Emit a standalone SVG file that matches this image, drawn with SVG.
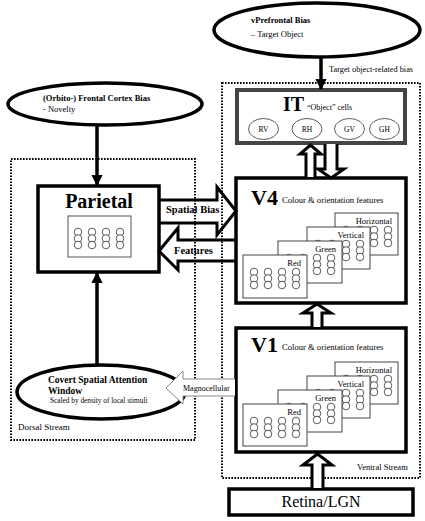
<svg xmlns="http://www.w3.org/2000/svg" width="425" height="521" viewBox="0 0 425 521">
<style>
text{font-family:"Liberation Serif","Times New Roman",serif;fill:#000}
.b{font-weight:bold}
.thick{fill:#fff;stroke:#000;stroke-width:3.5}
.ell{fill:#fff;stroke:#000;stroke-width:3.5}
.dot{fill:none;stroke:#000;stroke-width:2;stroke-dasharray:1.6 1.4}
.card{fill:#fff;stroke:#444;stroke-width:1}
.c{fill:#fff;stroke:#333;stroke-width:0.8}
.hol{fill:#fff;stroke:#000;stroke-width:3;stroke-linejoin:miter}
.holn{fill:none;stroke:#000;stroke-width:3;stroke-linejoin:miter}
.line{stroke:#000;stroke-width:3.5;fill:none}
.sm{font-size:8px}
</style>
<defs>
<marker id="ah" viewBox="0 0 10 10" refX="9" refY="5" markerWidth="3.2" markerHeight="3.2" orient="auto" markerUnits="strokeWidth">
<path d="M0,0 L10,5 L0,10 z" fill="#000"/>
</marker>
<g id="col"><circle class="c" cx="0" cy="0" r="3.8"/><circle class="c" cx="0" cy="6.5" r="3.8"/><circle class="c" cx="0" cy="13" r="3.8"/></g>
<g id="cols"><use href="#col" x="11" y="17"/><use href="#col" x="25" y="17"/><use href="#col" x="39" y="17"/><use href="#col" x="53" y="17"/></g>
</defs>

<!-- stream regions -->
<g id="dorsal-stream">
<rect class="dot" x="11" y="159" width="184" height="281"/>
<text x="18" y="430" style="font-size:9px">Dorsal Stream</text>
</g>
<g id="ventral-stream">
<rect class="dot" x="222" y="83" width="198" height="395"/>
<text x="357" y="470" style="font-size:8.5px">Ventral Stream</text>
</g>

<g id="vprefrontal">
<ellipse class="ell" cx="317" cy="30" rx="103" ry="27"/>
<text x="251" y="23" class="b" style="font-size:8.5px">vPrefrontal Bias</text>
<text x="251" y="37" style="font-size:8.5px">– Target Object</text>
</g>

<g id="frontal">
<ellipse class="ell" cx="105" cy="104" rx="97" ry="21"/>
<text x="43" y="101" class="b" style="font-size:8.5px">(Orbito-) Frontal Cortex Bias</text>
<text x="43" y="112" style="font-size:8.5px">- Novelty</text>
</g>

<g id="covert">
<ellipse class="ell" cx="101" cy="392" rx="84" ry="27"/>
<text x="48" y="383" class="b" style="font-size:9.5px">Covert Spatial Attention</text>
<text x="48" y="394" class="b" style="font-size:9.5px">Window</text>
<text x="50" y="403" style="font-size:7.3px">Scaled by density of local stimuli</text>
</g>

<g id="it">
<rect x="237" y="90" width="168" height="53" fill="#fff" stroke="#444" stroke-width="4"/>
<text x="283" y="111" class="b" style="font-size:20px">IT</text>
<text x="307" y="110" class="sm">“Object” cells</text>
<ellipse class="c" cx="263.5" cy="129" rx="15" ry="10.5"/>
<ellipse class="c" cx="307" cy="129" rx="15" ry="10.5"/>
<ellipse class="c" cx="349.5" cy="129" rx="15" ry="10.5"/>
<ellipse class="c" cx="384.5" cy="129" rx="15" ry="10.5"/>
<g text-anchor="middle" style="font-size:7.5px">
<text x="263.5" y="132">RV</text><text x="307" y="132">RH</text><text x="349.5" y="132">GV</text><text x="384.5" y="132">GH</text>
</g>
</g>

<g id="parietal">
<rect class="thick" x="38" y="186" width="121" height="86"/>
<text x="99" y="208" text-anchor="middle" class="b" style="font-size:20px">Parietal</text>
<rect x="68" y="216" width="63" height="41" fill="#fff" stroke="#555" stroke-width="1"/>
<use href="#col" x="78" y="232"/><use href="#col" x="92" y="232"/><use href="#col" x="106" y="232"/><use href="#col" x="120" y="232"/>
</g>

<g id="v4">
<rect class="thick" x="236" y="178" width="170" height="125"/>
<text x="251" y="205" class="b" style="font-size:22px">V4</text>
<text x="282" y="203" style="font-size:8.6px">Colour &amp; orientation features</text>
<g transform="translate(335,213)"><rect class="card" width="63" height="42"/><text x="57" y="11" text-anchor="end" style="font-size:8.5px">Horizontal</text><use href="#cols"/></g>
<g transform="translate(307,227)"><rect class="card" width="63" height="42"/><text x="57" y="11" text-anchor="end" style="font-size:8.5px">Vertical</text><use href="#cols"/></g>
<g transform="translate(278,241)"><rect class="card" width="64" height="42"/><text x="58" y="11" text-anchor="end" style="font-size:8.5px">Green</text><use href="#cols"/></g>
<g transform="translate(243,255)"><rect class="card" width="64" height="43"/><text x="58" y="11" text-anchor="end" style="font-size:8.5px">Red</text><use href="#cols"/></g>
</g>

<g id="v1">
<rect class="thick" x="236" y="328" width="170" height="124"/>
<text x="251" y="352" class="b" style="font-size:22px">V1</text>
<text x="282" y="350" style="font-size:8.6px">Colour &amp; orientation features</text>
<g transform="translate(335,362)"><rect class="card" width="63" height="42"/><text x="57" y="11" text-anchor="end" style="font-size:8.5px">Horizontal</text><use href="#cols"/></g>
<g transform="translate(307,376)"><rect class="card" width="63" height="42"/><text x="57" y="11" text-anchor="end" style="font-size:8.5px">Vertical</text><use href="#cols"/></g>
<g transform="translate(278,390)"><rect class="card" width="64" height="42"/><text x="58" y="11" text-anchor="end" style="font-size:8.5px">Green</text><use href="#cols"/></g>
<g transform="translate(243,404)"><rect class="card" width="64" height="42"/><text x="58" y="11" text-anchor="end" style="font-size:8.5px">Red</text><use href="#cols"/></g>
</g>

<g id="retina">
<rect class="thick" x="229" y="489" width="184" height="26"/>
<text x="321" y="507" text-anchor="middle" style="font-size:16px">Retina/LGN</text>
</g>

<g id="connectors">
<line class="line" x1="321" y1="57" x2="321" y2="89" marker-end="url(#ah)"/>
<text x="329" y="72" style="font-size:8.3px">Target object-related bias</text>
<line class="line" x1="97" y1="125" x2="97" y2="185" marker-end="url(#ah)"/>
<line class="line" x1="97" y1="365" x2="97" y2="273" marker-end="url(#ah)"/>
<path class="hol" d="M306,177 V154 H300 L310.5,145 L321,154 H315 V177"/>
<path class="hol" d="M325,144 V169 H318 L331,178 L344,169 H337 V144"/>
<path class="hol" d="M312,327 V313 H303 L317,304 L331,313 H322 V327"/>
<path class="hol" d="M312,488 V465 H303 L317.5,454 L332,465 H323 V488"/>
<path class="holn" d="M160,200 H217 V187 L236,211 L217,235 V223 H160"/>
<text x="166" y="213" class="b" style="font-size:10.5px">Spatial Bias</text>
<path class="holn" d="M236,240 H178 V228 L159,251 L178,270 V261 H236"/>
<text x="174" y="254" class="b" style="font-size:10.5px">Features</text>
<path d="M235,379 H183 V371 L166,388 L183,404 V396 H235" fill="#fff" stroke="#888" stroke-width="1"/>
<text x="183" y="391" style="font-size:8px">Magnocellular</text>
</g>
</svg>
